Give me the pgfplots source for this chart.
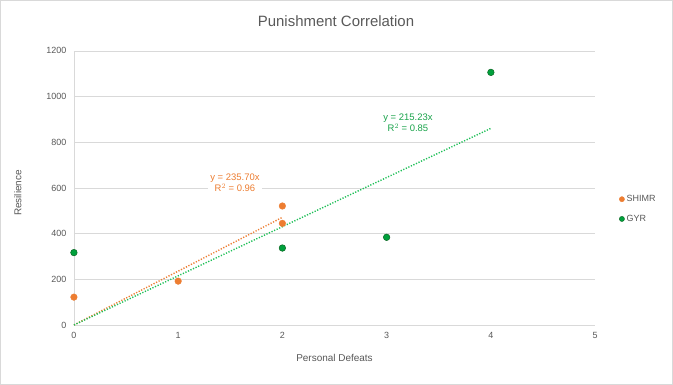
\documentclass[border=0pt]{standalone}
\usepackage{pgfplots}
\pgfplotsset{compat=1.18}
\usepackage{fontspec}
\setmainfont{Liberation Sans}
\definecolor{txt}{HTML}{595959}
\definecolor{grd}{HTML}{D9D9D9}
\definecolor{org}{HTML}{ED7D31}
\definecolor{grn}{HTML}{00A03C}
\definecolor{grnd}{HTML}{0B6623}
\definecolor{grnl}{HTML}{1DC057}
\begin{document}
\begin{tikzpicture}[x=1bp,y=1bp]
\draw[fill=white,draw=grd,line width=0.8bp] (0.5,0.5) rectangle (672.5,384.5);
\node[text=txt,font=\fontsize{15}{18}\selectfont] at (336,364) {Punishment Correlation};
\node[text=txt,font=\fontsize{10}{12}\selectfont,rotate=90] at (18,192) {Resilience};
\node[text=txt,font=\fontsize{10}{12}\selectfont] at (334.5,27) {Personal Defeats};
\begin{axis}[
  at={(74bp,60bp)}, anchor=south west,
  scale only axis, width=521bp, height=274bp,
  xmin=0, xmax=5, ymin=0, ymax=1200,
  xtick={0,1,...,5}, ytick={0,200,...,1200},
  ymajorgrids, grid style={grd,line width=0.6bp},
  axis x line*=bottom, axis y line*=left,
  axis line style={grd,line width=0.8bp},
  major tick length=0pt,
  tick label style={text=txt,font=\fontsize{9}{11}\selectfont},
  /pgf/number format/assume math mode=true,
  /pgf/number format/1000 sep={},
  yticklabel style={xshift=-4bp},
  xticklabel style={yshift=-4bp},
  clip=false,
  legend style={at={(1.04,0.423)},anchor=west,draw=none,fill=none,
    font=\fontsize{9}{11}\selectfont,text=txt,row sep=8bp,
    legend cell align=left},
  legend image code/.code={\fill[#1] (0.15cm,0cm) circle (2.6bp);},
]
\addplot[only marks, mark=*, mark size=3.3bp, color=org, fill=org, mark options={fill=org,draw=org}] coordinates {(0,122) (1,192) (2,521) (2,445)};
\addlegendentry{SHIMR}
\addplot[only marks, mark=*, mark size=3.3bp, color=grnd, fill=grn, mark options={fill=grn,draw=grnd,line width=0.5bp}] coordinates {(0,317) (2,337) (3,384) (4,1106)};
\addlegendentry{GYR}
\addplot[org, line width=1.4bp, dash pattern=on 1.2bp off 1.6bp, forget plot] coordinates {(0,0) (2,471.4)};
\addplot[grnl, line width=1.4bp, dash pattern=on 1.2bp off 1.6bp, forget plot] coordinates {(0,0) (4,860.9)};
\node[fill=white,text=org,font=\fontsize{9.5}{11.5}\selectfont,align=center,inner sep=2bp] at (axis cs:1.545,622) {y = 235.70x\\R$^2$ = 0.96};
\node[fill=white,text=grnl!85!black,font=\fontsize{9.5}{11.5}\selectfont,align=center,inner sep=2bp] at (axis cs:3.205,885) {y = 215.23x\\R$^2$ = 0.85};
\end{axis}
\end{tikzpicture}
\end{document}
